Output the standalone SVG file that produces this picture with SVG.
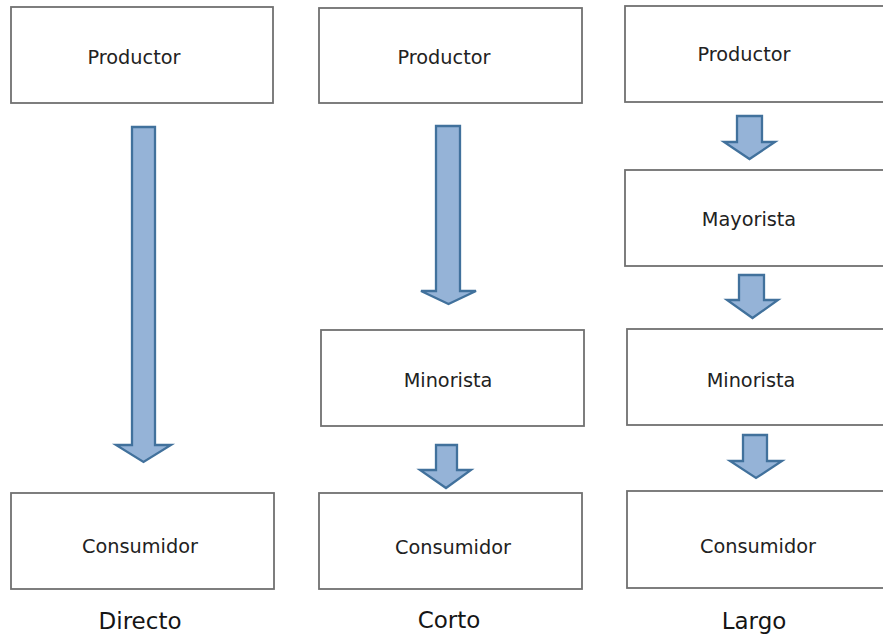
<svg xmlns="http://www.w3.org/2000/svg" width="883" height="635" viewBox="0 0 883 635">
<style>
.box{fill:#fff;stroke:#707070;stroke-width:1.8}
.t{font-family:"DejaVu Sans","Verdana",sans-serif;font-size:19.3px;fill:#222;text-anchor:middle}
.lbl{font-family:"DejaVu Sans","Verdana",sans-serif;font-size:23px;fill:#151515;text-anchor:middle}
.arr{fill:#95b3d7;stroke:#41719c;stroke-width:2.3;stroke-linejoin:miter}
</style>
<rect width="883" height="635" fill="#fff"/>
<g id="connectors">
<path class="arr" d="M132,127 H155 V445 H171 L143.5,462 L116,445 H132 Z"/>
<path class="arr" d="M436,126 H460 V291 H476 L448.5,304 L421,291 H436 Z"/>
<path class="arr" d="M436,445 H457 V470 H471 L446,488 L420,470 H436 Z"/>
<path class="arr" d="M737,116 H762 V142 H775 L749.5,159 L724,142 H737 Z"/>
<path class="arr" d="M739,275 H764 V300 H778 L752.5,318 L727,300 H739 Z"/>
<path class="arr" d="M743,435 H767 V461 H782 L756,478 L730,461 H743 Z"/>
</g>
<g id="directo-productor"><rect class="box" x="11" y="7" width="262" height="96"/><text class="t" x="134" y="64">Productor</text></g>
<g id="directo-consumidor"><rect class="box" x="11" y="493" width="263" height="96"/><text class="t" x="140" y="553">Consumidor</text></g>
<g id="corto-productor"><rect class="box" x="319" y="8" width="263" height="95"/><text class="t" x="444" y="64">Productor</text></g>
<g id="corto-minorista"><rect class="box" x="321" y="330" width="263" height="96"/><text class="t" x="448" y="387">Minorista</text></g>
<g id="corto-consumidor"><rect class="box" x="319" y="493" width="263" height="96"/><text class="t" x="453" y="554">Consumidor</text></g>
<g id="largo-productor"><rect class="box" x="625" y="6" width="270" height="96"/><text class="t" x="744" y="61">Productor</text></g>
<g id="largo-mayorista"><rect class="box" x="625" y="170" width="270" height="96"/><text class="t" x="749" y="226">Mayorista</text></g>
<g id="largo-minorista"><rect class="box" x="627" y="329" width="270" height="96"/><text class="t" x="751" y="387">Minorista</text></g>
<g id="largo-consumidor"><rect class="box" x="627" y="491" width="270" height="97"/><text class="t" x="758" y="553">Consumidor</text></g>
<g id="labels">
<text class="lbl" x="140" y="629">Directo</text>
<text class="lbl" x="449" y="628">Corto</text>
<text class="lbl" x="754" y="629">Largo</text>
</g>
</svg>
